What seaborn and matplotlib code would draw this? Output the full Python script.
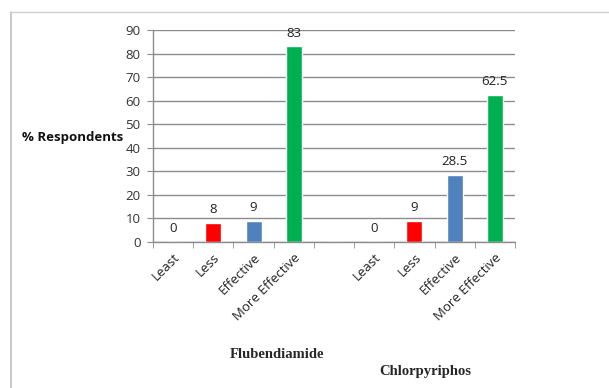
import matplotlib
matplotlib.use("Agg")
import matplotlib.pyplot as plt
from matplotlib.lines import Line2D
import seaborn as sns
import pandas as pd

categories = ["Least", "Less", "Effective", "More Effective", "",
              "Least ", "Less ", "Effective ", "More Effective "]
values = [0, 8, 9, 83, None, 0, 9, 28.5, 62.5]
value_labels = ["0", "8", "9", "83", "", "0", "9", "28.5", "62.5"]
bar_colors = ["#FF0000", "#FF0000", "#4F81BD", "#00B050", "#FFFFFF",
              "#FF0000", "#FF0000", "#4F81BD", "#00B050"]
group_names = ["Flubendiamide", "Chlorpyriphos"]
y_ticks = [0, 10, 20, 30, 40, 50, 60, 70, 80, 90]

sns.set_style("white")
plt.rcParams["font.family"] = ["Open Sans", "DejaVu Sans"]

df = pd.DataFrame({"category": categories,
                   "value": [v if v is not None else 0 for v in values]})

fig = plt.figure(figsize=(6.09, 3.88), dpi=100)
ax = fig.add_axes([153 / 609, 1 - 242 / 388, (515 - 153) / 609, (242 - 30) / 388])

sns.barplot(data=df, x="category", y="value", hue="category",
            palette=dict(zip(categories, bar_colors)), width=0.4,
            legend=False, ax=ax, saturation=1)

ax.set_ylim(0, 90)
ax.set_xlim(-0.5, len(categories) - 0.5)
ax.set_yticks(y_ticks)
ax.set_yticklabels([str(t) for t in y_ticks], fontsize=9.5, color="#333333")
ax.yaxis.grid(True, color="#8c8c8c", linewidth=1)
ax.set_axisbelow(True)

for s in ["top", "right"]:
    ax.spines[s].set_visible(False)
for s in ["left", "bottom"]:
    ax.spines[s].set_color("#8c8c8c")
    ax.spines[s].set_linewidth(1)

ax.tick_params(axis="y", left=True, length=4, color="#8c8c8c", pad=5)
ax.set_xticks([i - 0.5 for i in range(len(categories) + 1)], minor=True)
ax.tick_params(axis="x", which="minor", bottom=True, length=4, color="#8c8c8c")
ax.tick_params(axis="x", which="major", bottom=False, pad=3)
ax.set_xticks(range(len(categories)))
ax.set_xticklabels([c.strip() for c in categories], rotation=45, ha="right",
                   rotation_mode="anchor", fontsize=9.5, color="#222222")
ax.set_xlabel("")
ax.set_ylabel("")

for i, (v, lab) in enumerate(zip(values, value_labels)):
    if v is None:
        continue
    ax.annotate(lab, (i, v), xytext=(0, 5), textcoords="offset points",
                ha="center", va="bottom", fontsize=9.5, color="#222222")

fig.text(22 / 609, 1 - 137 / 388, "% Respondents", fontsize=9.5,
         fontweight="bold", ha="left", va="center", color="#111111")

fig.text(277 / 609, 1 - 354 / 388, group_names[0], fontsize=10.5,
         fontweight="bold", family="Liberation Serif", ha="center", va="center")
fig.text(425 / 609, 1 - 371 / 388, group_names[1], fontsize=10.5,
         fontweight="bold", family="Liberation Serif", ha="center", va="center")

# chart frame
fig.add_artist(Line2D([10.5 / 609, 10.5 / 609], [0, 1 - 12 / 388],
                      transform=fig.transFigure, color="#bfbfbf", linewidth=1.2))
fig.add_artist(Line2D([10.5 / 609, 1], [1 - 12 / 388, 1 - 12 / 388],
                      transform=fig.transFigure, color="#d0d0d0", linewidth=1))

fig.savefig("out.png", dpi=100, facecolor="white")
